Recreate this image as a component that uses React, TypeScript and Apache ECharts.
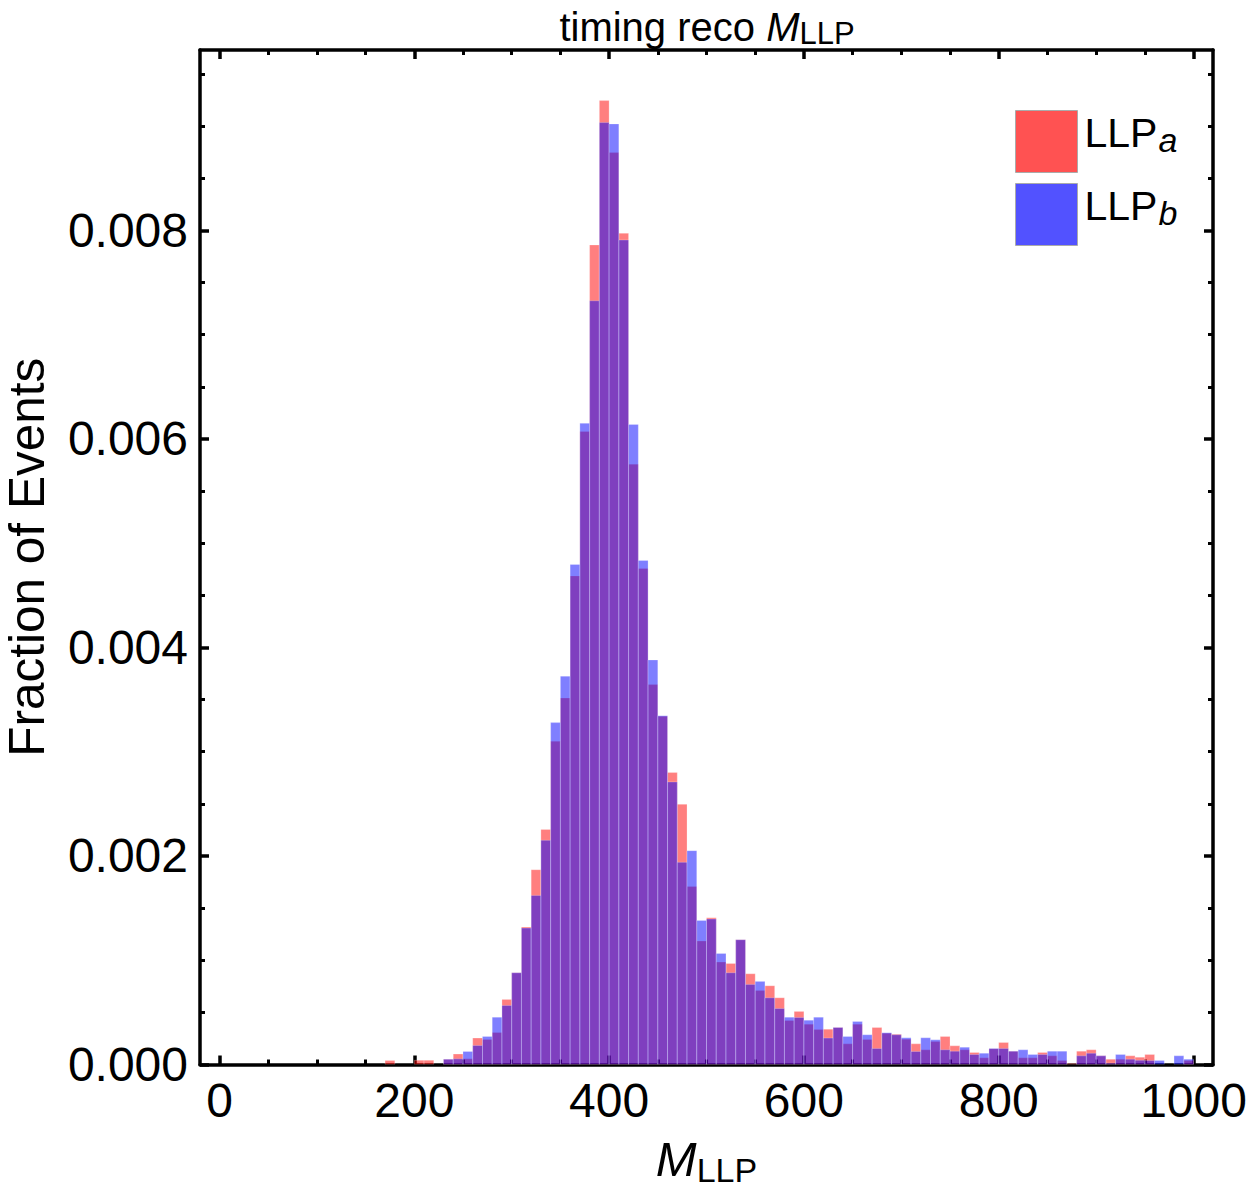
import React, { useEffect, useRef } from "react";
import * as echarts from "echarts";

// Histogram binning (GeV)
const BIN_WIDTH = 10;
const binStarts = Array.from({ length: 100 }, (_, i) => i * BIN_WIDTH);

// Fraction of events per bin, LLP_a
const llpA = [
  0, 0, 0, 0, 0, 0, 0, 0, 0, 0,
  0, 0, 0, 0, 0, 0, 0, 0.000038, 0, 0,
  0.00004, 0.00004, 0, 0.00005, 0.0001, 0.000054, 0.000253, 0.00024, 0.000307, 0.000624,
  0.00088, 0.001318, 0.001868, 0.002255, 0.0031, 0.003515, 0.004686, 0.006072, 0.00786, 0.009245,
  0.008746, 0.007972, 0.005758, 0.004757, 0.003644, 0.00334, 0.0028, 0.002495, 0.001708, 0.001184,
  0.001408, 0.000982, 0.000969, 0.001197, 0.00087, 0.00071, 0.000755, 0.00064, 0.000422, 0.000509,
  0.000387, 0.000336, 0.000339, 0.000355, 0.000198, 0.000387, 0.00024, 0.000355, 0.0003, 0.000291,
  0.000243, 0.000198, 0.000141, 0.00022, 0.000269, 0.000179, 0.000141, 0.000115, 0.000064, 0.00015,
  0.000211, 0.000128, 0.000064, 0.000064, 0.000115, 0.000083, 0.000038, 0.00001, 0.000128, 0.000141,
  0.000083, 0.000051, 0.000051, 0.000083, 0.00007, 0.000096, 0, 0, 0, 0.000038,
];

// Fraction of events per bin, LLP_b
const llpB = [
  0, 0, 0, 0, 0, 0, 0, 0, 0, 0,
  0, 0, 0, 0, 0, 0, 0, 0, 0, 0,
  0, 0, 0, 0.00005, 0.000054, 0.000125, 0.000182, 0.000269, 0.000454, 0.000566,
  0.00088, 0.001308, 0.001622, 0.00215, 0.003279, 0.003724, 0.004796, 0.006149, 0.007325, 0.009034,
  0.009021, 0.007908, 0.006139, 0.004834, 0.00388, 0.003345, 0.00271, 0.001939, 0.002051, 0.001382,
  0.001395, 0.001065, 0.00088, 0.001197, 0.000768, 0.000797, 0.00064, 0.000537, 0.000454, 0.000451,
  0.000425, 0.000454, 0.000253, 0.000355, 0.000269, 0.000413, 0.000285, 0.000154, 0.000305, 0.000285,
  0.000256, 0.000125, 0.000256, 0.000237, 0.000141, 0.000128, 0.000166, 0.000096, 0.000108, 0.000154,
  0.000154, 0.000128, 0.000141, 0.000096, 0.000096, 0.000128, 0.000128, 0, 0.000083, 0.000108,
  0.000083, 0.000013, 0.000096, 0.000051, 0.00004, 0.000038, 0.000038, 0, 0.000083, 0.000051,
];

// Frame ticks
const xMajorTicks = [0, 200, 400, 600, 800, 1000];
const xMinorTicks = [50, 100, 150, 250, 300, 350, 450, 500, 550, 650, 700, 750, 850, 900, 950];
const yMajorTicks = [0, 0.002, 0.004, 0.006, 0.008];
const yMinorTicks = [
  0.0005, 0.001, 0.0015, 0.0025, 0.003, 0.0035, 0.0045, 0.005, 0.0055,
  0.0065, 0.007, 0.0075, 0.0085, 0.009, 0.0095,
];

const X_MIN = -20;
const X_MAX = 1020;
const Y_MIN = 0;
const Y_MAX = 0.00973;

const FONT = "'Liberation Sans', Arial, Helvetica, sans-serif";

// Plot frame rectangle (shared by the bar grid and the minor-tick grid)
const GRID = { left: 200, right: 37, top: 50, bottom: 131.5, outerBoundsMode: "none", containLabel: false };

const histData = (values: number[]) =>
  binStarts.map((start, i) => [start, start + BIN_WIDTH, values[i]]);

const makeRenderItem = (fill: string) => (params: any, api: any) => {
  const v = api.value(2);
  if (!v) return null;
  const topLeft = api.coord([api.value(0), v]);
  const bottomRight = api.coord([api.value(1), 0]);
  return {
    type: "rect",
    shape: {
      x: topLeft[0],
      y: topLeft[1],
      width: bottomRight[0] - topLeft[0],
      height: bottomRight[1] - topLeft[1],
    },
    style: { fill, stroke: "rgba(255,255,255,0.3)", lineWidth: 0.8 },
  };
};

const frameLine = { show: true, onZero: false, lineStyle: { color: "#000", width: 3.5 } };
const noLine = { show: false, onZero: false };

function majorX(position: "bottom" | "top", withLabels: boolean) {
  return {
    type: "value",
    gridIndex: 0,
    position,
    min: X_MIN,
    max: X_MAX,
    axisLine: frameLine,
    splitLine: { show: false },
    axisTick: {
      show: true,
      inside: true,
      length: 9,
      customValues: xMajorTicks,
      lineStyle: { color: "#000", width: 3.5 },
    },
    axisLabel: withLabels
      ? {
          show: true,
          customValues: xMajorTicks,
          formatter: (v: number) => String(v),
          fontSize: 48,
          fontFamily: FONT,
          color: "#000",
          margin: 12,
        }
      : { show: false },
    ...(withLabels
      ? {
          name: "{m|M}{s|LLP}",
          nameLocation: "middle",
          nameGap: 66,
          nameTextStyle: {
            rich: {
              m: { fontSize: 49, fontStyle: "italic", fontFamily: FONT, color: "#000", lineHeight: 56 },
              s: { fontSize: 34, fontFamily: FONT, color: "#000", lineHeight: 27, verticalAlign: "bottom" },
            },
          },
        }
      : {}),
  };
}

function minorX(position: "bottom" | "top") {
  return {
    type: "value",
    gridIndex: 1,
    position,
    min: X_MIN,
    max: X_MAX,
    axisLine: noLine,
    splitLine: { show: false },
    axisTick: {
      show: true,
      inside: true,
      length: 5,
      customValues: xMinorTicks,
      lineStyle: { color: "#000", width: 3 },
    },
    axisLabel: { show: false },
  };
}

function majorY(position: "left" | "right", withLabels: boolean) {
  return {
    type: "value",
    gridIndex: 0,
    position,
    min: Y_MIN,
    max: Y_MAX,
    axisLine: frameLine,
    splitLine: { show: false },
    axisTick: {
      show: true,
      inside: true,
      length: 9,
      customValues: yMajorTicks,
      lineStyle: { color: "#000", width: 3.5 },
    },
    axisLabel: withLabels
      ? {
          show: true,
          customValues: yMajorTicks,
          formatter: (v: number) => v.toFixed(3),
          fontSize: 48,
          fontFamily: FONT,
          color: "#000",
          margin: 12,
        }
      : { show: false },
    ...(withLabels
      ? {
          name: "Fraction of Events",
          nameLocation: "middle",
          nameGap: 149,
          nameTextStyle: { fontSize: 49.5, fontFamily: FONT, color: "#000" },
        }
      : {}),
  };
}

function minorY(position: "left" | "right") {
  return {
    type: "value",
    gridIndex: 1,
    position,
    min: Y_MIN,
    max: Y_MAX,
    axisLine: noLine,
    splitLine: { show: false },
    axisTick: {
      show: true,
      inside: true,
      length: 5,
      customValues: yMinorTicks,
      lineStyle: { color: "#000", width: 3 },
    },
    axisLabel: { show: false },
  };
}

export default function App() {
  const ref = useRef<HTMLDivElement>(null);

  useEffect(() => {
    if (!ref.current) return;
    const chart = echarts.init(ref.current, undefined, { renderer: "svg" });

    const option: any = {
      animation: false,
      backgroundColor: "#fff",
      grid: [GRID, GRID],
      xAxis: [majorX("bottom", true), majorX("top", false), minorX("bottom"), minorX("top")],
      yAxis: [majorY("left", true), majorY("right", false), minorY("left"), minorY("right")],
      legend: {
        orient: "vertical",
        left: 1015,
        top: 110,
        padding: 0,
        itemWidth: 62,
        itemHeight: 62,
        itemGap: 10,
        icon: "rect",
        selectedMode: false,
        data: [
          { name: "LLP_a", itemStyle: { color: "#ff5252", borderColor: "#aaaaaa", borderWidth: 1 } },
          { name: "LLP_b", itemStyle: { color: "#5252ff", borderColor: "#aaaaaa", borderWidth: 1 } },
        ],
        formatter: (name: string) => `{n|LLP}{s|${name.slice(-1)}}`,
        textStyle: {
          rich: {
            n: { fontSize: 41, fontFamily: FONT, color: "#000", lineHeight: 44, padding: [0, 0, 18, 2] },
            s: {
              fontSize: 34,
              fontStyle: "italic",
              fontFamily: FONT,
              color: "#000",
              lineHeight: 32,
              padding: [0, 0, 7, 1],
              verticalAlign: "bottom",
            },
          },
        },
      },
      graphic: [
        {
          type: "text",
          x: 707,
          y: 27,
          style: {
            text: "{t|timing reco }{m|M}{s|LLP}",
            align: "center",
            verticalAlign: "middle",
            textAlign: "center",
            textVerticalAlign: "middle",
            rich: {
              t: { fontSize: 40, fontFamily: FONT, fill: "#000", lineHeight: 44 },
              m: { fontSize: 40, fontStyle: "italic", fontFamily: FONT, fill: "#000", lineHeight: 44 },
              s: { fontSize: 31, fontFamily: FONT, fill: "#000", lineHeight: 32, verticalAlign: "bottom" },
            },
          },
        },
      ],
      series: [
        {
          name: "LLP_a",
          type: "custom",
          xAxisIndex: 0,
          yAxisIndex: 0,
          clip: true,
          itemStyle: { color: "#ff5252" },
          encode: { x: [0, 1], y: 2 },
          data: histData(llpA),
          renderItem: makeRenderItem("rgba(255,0,0,0.5)"),
        },
        {
          name: "LLP_b",
          type: "custom",
          xAxisIndex: 0,
          yAxisIndex: 0,
          clip: true,
          itemStyle: { color: "#5252ff" },
          encode: { x: [0, 1], y: 2 },
          data: histData(llpB),
          renderItem: makeRenderItem("rgba(0,0,255,0.5)"),
        },
      ],
    };

    chart.setOption(option);
    return () => chart.dispose();
  }, []);

  return (
    <div
      ref={ref}
      style={{ position: "absolute", left: 0, top: 0, width: 1250, height: 1196, background: "#fff" }}
    />
  );
}
